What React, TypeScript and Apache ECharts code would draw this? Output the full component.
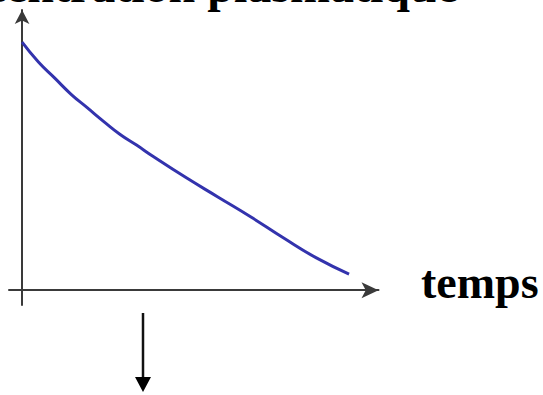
import React, { useEffect, useRef } from "react";
import * as echarts from "echarts";

// Plasma concentration over time (arbitrary units)
const times = [0, 0.5, 1, 1.5, 2, 2.5, 3, 3.5, 4, 5, 6, 7, 8, 9, 10];
const concentrations = [100, 92, 85.5, 79, 73.5, 68, 62.8, 58.5, 54, 45.5, 37.5, 29.5, 21, 13, 6.5];

const titleText = "Concentration plasmatique";
const xAxisLabel = "temps";

export default function App() {
  const ref = useRef<HTMLDivElement>(null);

  useEffect(() => {
    if (!ref.current) return;
    const chart = echarts.init(ref.current, undefined, { renderer: "svg" });
    const serif = "'Liberation Serif', 'Times New Roman', serif";
    const axisColor = "#3a3a3a";

    chart.setOption({
      animation: false,
      backgroundColor: "#ffffff",
      grid: { left: 9, top: 10, width: 369.5, height: 295 },
      xAxis: {
        type: "value",
        min: -0.4,
        max: 10.9,
        axisLine: {
          onZero: true,
          symbol: ["none", "arrow"],
          symbolSize: [12, 17],
          lineStyle: { color: axisColor, width: 2 },
        },
        axisTick: { show: false },
        axisLabel: { show: false },
        splitLine: { show: false },
      },
      yAxis: {
        type: "value",
        min: -6,
        max: 113,
        axisLine: {
          onZero: true,
          symbol: ["none", "arrow"],
          symbolSize: [11, 14],
          lineStyle: { color: axisColor, width: 2 },
        },
        axisTick: { show: false },
        axisLabel: { show: false },
        splitLine: { show: false },
      },
      series: [
        {
          type: "line",
          data: times.map((t, i) => [t, concentrations[i]]),
          smooth: true,
          showSymbol: false,
          lineStyle: { color: "#3333ad", width: 3 },
        },
      ],
      graphic: [
        {
          type: "text",
          x: 458,
          y: -14.2,
          style: {
            text: titleText,
            font: `bold 48px ${serif}`,
            fill: "#000",
            align: "right",
            verticalAlign: "middle",
          },
        },
        {
          type: "text",
          x: 421,
          y: 282.5,
          style: {
            text: xAxisLabel,
            font: `bold 46px ${serif}`,
            fill: "#000",
            align: "left",
            verticalAlign: "middle",
          },
        },
        {
          type: "line",
          shape: { x1: 143, y1: 313, x2: 143, y2: 378 },
          style: { stroke: "#111", lineWidth: 2.5 },
        },
        {
          type: "polygon",
          shape: { points: [[135, 377], [151, 377], [143, 392]] },
          style: { fill: "#000" },
        },
      ],
    });

    return () => chart.dispose();
  }, []);

  return (
    <div
      ref={ref}
      style={{ position: "fixed", left: 0, top: 0, width: 543, height: 395 }}
    />
  );
}
